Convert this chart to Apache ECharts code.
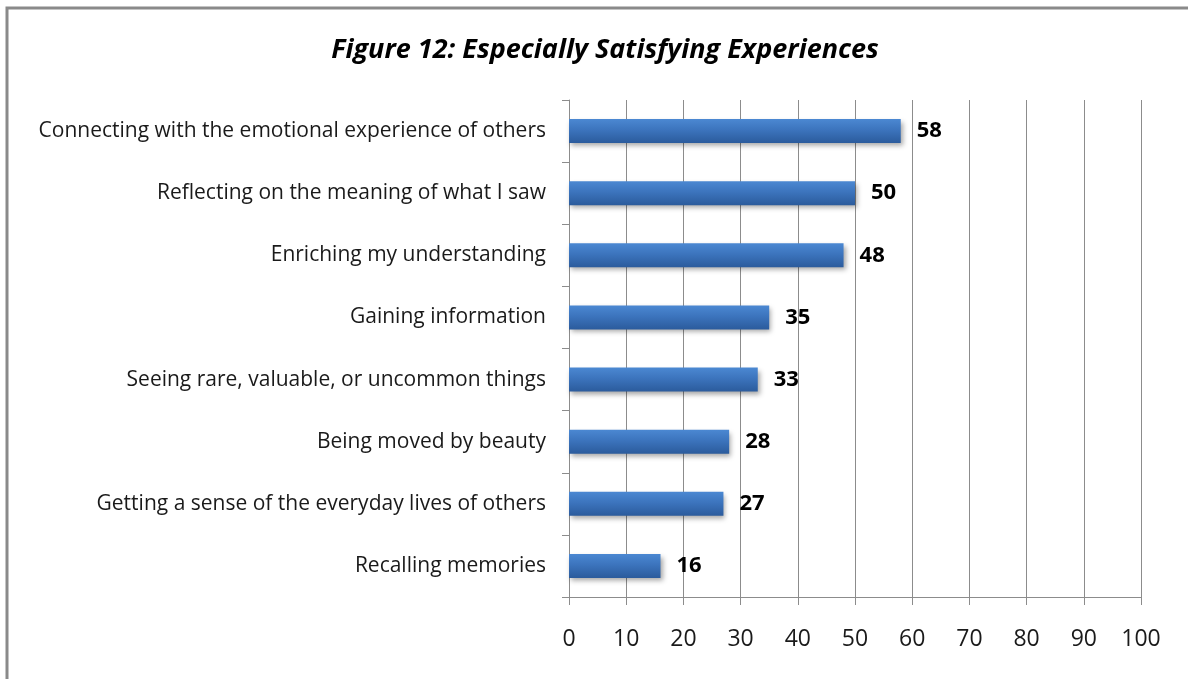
<!DOCTYPE html>
<html>
<head>
<meta charset="utf-8">
<script src="https://cdn.jsdelivr.net/npm/echarts@6/dist/echarts.min.js"></script>
<style>
  html, body { margin: 0; padding: 0; background: #ffffff; }
  #chart { width: 1188px; height: 679px; }
</style>
</head>
<body>
<div id="chart"></div>
<script>
// Survey items, listed bottom to top as drawn on the category axis
const categories = [
  'Recalling memories',
  'Getting a sense of the everyday lives of others',
  'Being moved by beauty',
  'Seeing rare, valuable, or uncommon things',
  'Gaining information',
  'Enriching my understanding',
  'Reflecting on the meaning of what I saw',
  'Connecting with the emotional experience of others'
];
const values = [16, 27, 28, 33, 35, 48, 50, 58];
const axisMin = 0;
const axisMax = 100;
const axisStep = 10;

const font = '"Open Sans", "Liberation Sans", sans-serif';

const chart = echarts.init(document.getElementById('chart'), null, { renderer: 'canvas' });

chart.setOption({
  backgroundColor: '#ffffff',
  animation: false,
  title: {
    text: 'Figure 12: Especially Satisfying Experiences',
    left: 600,
    top: 32,
    textAlign: 'center',
    textStyle: {
      fontFamily: font,
      fontSize: 27,
      fontWeight: 'bold',
      fontStyle: 'italic',
      color: '#000000'
    }
  },
  graphic: [{
    type: 'rect',
    shape: { x: 7, y: 8, width: 1200, height: 700 },
    style: { fill: 'none', stroke: '#8a8a8a', lineWidth: 3 },
    silent: true
  }],
  grid: {
    left: 569,
    right: 47,
    top: 100,
    bottom: 82
  },
  xAxis: {
    type: 'value',
    min: axisMin,
    max: axisMax,
    interval: axisStep,
    axisLine: { show: true, lineStyle: { color: '#8c8c8c', width: 1 } },
    axisTick: { show: true, length: 8, inside: false, lineStyle: { color: '#8c8c8c' } },
    splitLine: { show: true, lineStyle: { color: '#8c8c8c', width: 1 } },
    axisLabel: {
      fontFamily: font,
      fontSize: 23,
      color: '#1a1a1a',
      margin: 31
    }
  },
  yAxis: {
    type: 'category',
    data: categories,
    axisLine: { show: true, lineStyle: { color: '#8c8c8c', width: 1 } },
    axisTick: { show: true, length: 7, lineStyle: { color: '#8c8c8c' } },
    axisLabel: {
      fontFamily: font,
      fontSize: 21,
      color: '#1a1a1a',
      margin: 23
    }
  },
  series: [{
    type: 'bar',
    data: values,
    barWidth: 24,
    itemStyle: {
      color: new echarts.graphic.LinearGradient(0, 0, 0, 1, [
        { offset: 0, color: '#4b88d2' },
        { offset: 0.45, color: '#3c74bd' },
        { offset: 1, color: '#2b5b9c' }
      ]),
      shadowColor: 'rgba(0,0,0,0.35)',
      shadowBlur: 5,
      shadowOffsetX: 2,
      shadowOffsetY: 3
    },
    label: {
      show: true,
      position: 'right',
      distance: 16,
      fontFamily: font,
      fontSize: 22,
      fontWeight: 'bold',
      color: '#000000'
    }
  }]
});
</script>
</body>
</html>
